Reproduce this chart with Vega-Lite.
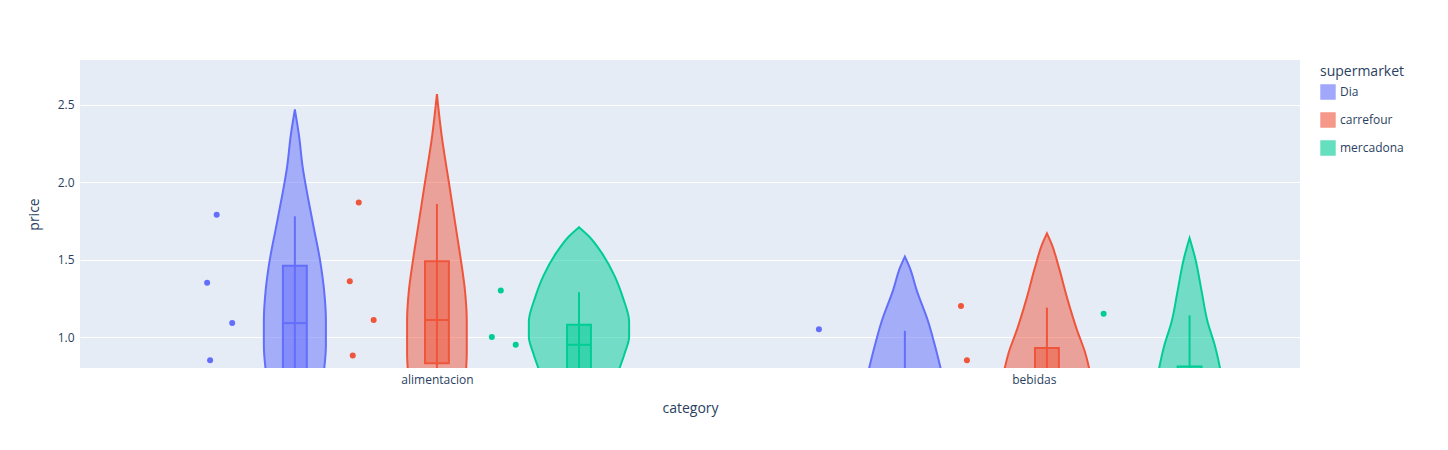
{
  "$schema": "https://vega.github.io/schema/vega-lite/v6.json",
  "width": 1220,
  "height": 308,
  "autosize": {"type": "none"},
  "padding": {"left": 80, "top": 60, "right": 148, "bottom": 82},
  "background": "white",
  "config": {
    "view": {"fill": "#e5ecf6", "stroke": null},
    "font": "Open Sans",
    "axis": {"labelColor": "#2a3f5f", "titleColor": "#2a3f5f", "titleFontWeight": "normal", "titleFontSize": 14, "labelFontSize": 12, "domain": false, "ticks": false}
  },
  "datasets": {
    "violin": [
      {"supermarket": "Dia", "g": "Dia-a", "price": 2.47, "lo": 0.762, "hi": 0.762},
      {"supermarket": "Dia", "g": "Dia-a", "price": 2.3, "lo": 0.755, "hi": 0.769},
      {"supermarket": "Dia", "g": "Dia-a", "price": 2.1, "lo": 0.749, "hi": 0.775},
      {"supermarket": "Dia", "g": "Dia-a", "price": 1.9, "lo": 0.740, "hi": 0.784},
      {"supermarket": "Dia", "g": "Dia-a", "price": 1.7, "lo": 0.730, "hi": 0.794},
      {"supermarket": "Dia", "g": "Dia-a", "price": 1.5, "lo": 0.720, "hi": 0.804},
      {"supermarket": "Dia", "g": "Dia-a", "price": 1.3, "lo": 0.713, "hi": 0.811},
      {"supermarket": "Dia", "g": "Dia-a", "price": 1.1, "lo": 0.710, "hi": 0.814},
      {"supermarket": "Dia", "g": "Dia-a", "price": 0.95, "lo": 0.710, "hi": 0.814},
      {"supermarket": "Dia", "g": "Dia-a", "price": 0.7, "lo": 0.716, "hi": 0.808},
      {"supermarket": "carrefour", "g": "Car-a", "price": 2.57, "lo": 1.0, "hi": 1.0},
      {"supermarket": "carrefour", "g": "Car-a", "price": 2.3, "lo": 0.992, "hi": 1.008},
      {"supermarket": "carrefour", "g": "Car-a", "price": 2.0, "lo": 0.980, "hi": 1.020},
      {"supermarket": "carrefour", "g": "Car-a", "price": 1.7, "lo": 0.968, "hi": 1.032},
      {"supermarket": "carrefour", "g": "Car-a", "price": 1.5, "lo": 0.960, "hi": 1.040},
      {"supermarket": "carrefour", "g": "Car-a", "price": 1.3, "lo": 0.953, "hi": 1.047},
      {"supermarket": "carrefour", "g": "Car-a", "price": 1.1, "lo": 0.950, "hi": 1.050},
      {"supermarket": "carrefour", "g": "Car-a", "price": 0.9, "lo": 0.950, "hi": 1.050},
      {"supermarket": "carrefour", "g": "Car-a", "price": 0.7, "lo": 0.953, "hi": 1.047},
      {"supermarket": "mercadona", "g": "Mer-a", "price": 1.71, "lo": 1.238, "hi": 1.238},
      {"supermarket": "mercadona", "g": "Mer-a", "price": 1.65, "lo": 1.221, "hi": 1.255},
      {"supermarket": "mercadona", "g": "Mer-a", "price": 1.55, "lo": 1.201, "hi": 1.275},
      {"supermarket": "mercadona", "g": "Mer-a", "price": 1.4, "lo": 1.179, "hi": 1.297},
      {"supermarket": "mercadona", "g": "Mer-a", "price": 1.25, "lo": 1.164, "hi": 1.312},
      {"supermarket": "mercadona", "g": "Mer-a", "price": 1.1, "lo": 1.154, "hi": 1.322},
      {"supermarket": "mercadona", "g": "Mer-a", "price": 1.0, "lo": 1.154, "hi": 1.322},
      {"supermarket": "mercadona", "g": "Mer-a", "price": 0.9, "lo": 1.161, "hi": 1.315},
      {"supermarket": "mercadona", "g": "Mer-a", "price": 0.7, "lo": 1.180, "hi": 1.296},
      {"supermarket": "Dia", "g": "Dia-b", "price": 1.52, "lo": 1.784, "hi": 1.784},
      {"supermarket": "Dia", "g": "Dia-b", "price": 1.45, "lo": 1.776, "hi": 1.792},
      {"supermarket": "Dia", "g": "Dia-b", "price": 1.3, "lo": 1.764, "hi": 1.804},
      {"supermarket": "Dia", "g": "Dia-b", "price": 1.1, "lo": 1.745, "hi": 1.823},
      {"supermarket": "Dia", "g": "Dia-b", "price": 0.95, "lo": 1.734, "hi": 1.834},
      {"supermarket": "Dia", "g": "Dia-b", "price": 0.7, "lo": 1.718, "hi": 1.850},
      {"supermarket": "carrefour", "g": "Car-b", "price": 1.67, "lo": 2.022, "hi": 2.022},
      {"supermarket": "carrefour", "g": "Car-b", "price": 1.6, "lo": 2.014, "hi": 2.030},
      {"supermarket": "carrefour", "g": "Car-b", "price": 1.45, "lo": 2.002, "hi": 2.042},
      {"supermarket": "carrefour", "g": "Car-b", "price": 1.25, "lo": 1.988, "hi": 2.056},
      {"supermarket": "carrefour", "g": "Car-b", "price": 1.05, "lo": 1.972, "hi": 2.072},
      {"supermarket": "carrefour", "g": "Car-b", "price": 0.9, "lo": 1.958, "hi": 2.086},
      {"supermarket": "carrefour", "g": "Car-b", "price": 0.7, "lo": 1.946, "hi": 2.098},
      {"supermarket": "mercadona", "g": "Mer-b", "price": 1.64, "lo": 2.261, "hi": 2.261},
      {"supermarket": "mercadona", "g": "Mer-b", "price": 1.5, "lo": 2.251, "hi": 2.271},
      {"supermarket": "mercadona", "g": "Mer-b", "price": 1.3, "lo": 2.241, "hi": 2.281},
      {"supermarket": "mercadona", "g": "Mer-b", "price": 1.1, "lo": 2.231, "hi": 2.291},
      {"supermarket": "mercadona", "g": "Mer-b", "price": 0.95, "lo": 2.219, "hi": 2.303},
      {"supermarket": "mercadona", "g": "Mer-b", "price": 0.7, "lo": 2.205, "hi": 2.317}
    ],
    "box": [
      {"supermarket": "Dia", "lo": 0.742, "hi": 0.782, "mid": 0.762, "q1": 0.7, "med": 1.09, "q3": 1.46, "wlo": 0.7, "whi": 1.78},
      {"supermarket": "carrefour", "lo": 0.980, "hi": 1.020, "mid": 1.0, "q1": 0.83, "med": 1.11, "q3": 1.49, "wlo": 0.7, "whi": 1.86},
      {"supermarket": "mercadona", "lo": 1.218, "hi": 1.258, "mid": 1.238, "q1": 0.7, "med": 0.95, "q3": 1.08, "wlo": 0.7, "whi": 1.29},
      {"supermarket": "Dia", "lo": 1.764, "hi": 1.804, "mid": 1.784, "q1": 0.6, "med": 0.65, "q3": 0.75, "wlo": 0.6, "whi": 1.04},
      {"supermarket": "carrefour", "lo": 2.002, "hi": 2.042, "mid": 2.022, "q1": 0.7, "med": 0.75, "q3": 0.93, "wlo": 0.7, "whi": 1.19},
      {"supermarket": "mercadona", "lo": 2.241, "hi": 2.281, "mid": 2.261, "q1": 0.7, "med": 0.75, "q3": 0.81, "wlo": 0.7, "whi": 1.14}
    ],
    "points": [
      {"supermarket": "Dia", "pos": 0.631, "price": 1.79},
      {"supermarket": "Dia", "pos": 0.615, "price": 1.35},
      {"supermarket": "Dia", "pos": 0.657, "price": 1.09},
      {"supermarket": "Dia", "pos": 0.620, "price": 0.85},
      {"supermarket": "carrefour", "pos": 0.869, "price": 1.87},
      {"supermarket": "carrefour", "pos": 0.854, "price": 1.36},
      {"supermarket": "carrefour", "pos": 0.894, "price": 1.11},
      {"supermarket": "carrefour", "pos": 0.859, "price": 0.88},
      {"supermarket": "mercadona", "pos": 1.107, "price": 1.30},
      {"supermarket": "mercadona", "pos": 1.092, "price": 1.00},
      {"supermarket": "mercadona", "pos": 1.132, "price": 0.95},
      {"supermarket": "Dia", "pos": 1.640, "price": 1.05},
      {"supermarket": "carrefour", "pos": 1.878, "price": 1.20},
      {"supermarket": "carrefour", "pos": 1.888, "price": 0.85},
      {"supermarket": "mercadona", "pos": 2.117, "price": 1.15}
    ]
  },
  "encoding": {
    "color": {
      "field": "supermarket", "type": "nominal",
      "scale": {"domain": ["Dia", "carrefour", "mercadona"], "range": ["#636efa", "#EF553B", "#00cc96"]},
      "legend": {"orient": "none", "legendX": 1240, "legendY": 5, "title": "supermarket", "titleFontWeight": "normal", "titleFontSize": 14, "titleColor": "#2a3f5f", "labelFontSize": 12, "labelColor": "#2a3f5f", "symbolType": "square", "symbolSize": 180, "symbolOpacity": 0.6, "symbolStrokeWidth": 2, "rowPadding": 6}
    }
  },
  "layer": [
    {
      "data": {"name": "violin"},
      "mark": {"type": "area", "orient": "horizontal", "clip": true, "fillOpacity": 0.5, "strokeWidth": 2, "interpolate": "monotone"},
      "encoding": {
        "y": {"field": "price", "type": "quantitative", "title": "price",
          "scale": {"domain": [0.8, 2.79], "nice": false, "zero": false},
          "axis": {"values": [1, 1.5, 2, 2.5], "gridColor": "white", "gridWidth": 1, "labelPadding": 6, "titlePadding": 16}},
        "x": {"field": "lo", "type": "quantitative", "title": "category",
          "scale": {"domain": [0.402, 2.446], "nice": false, "zero": false},
          "axis": {"values": [1, 2], "grid": false, "labelExpr": "datum.value == 1 ? 'alimentacion' : 'bebidas'", "labelPadding": 6, "titlePadding": 16}},
        "x2": {"field": "hi"},
        "detail": {"field": "g"},
        "stroke": {"field": "supermarket", "type": "nominal", "legend": null, "scale": {"domain": ["Dia", "carrefour", "mercadona"], "range": ["#636efa", "#EF553B", "#00cc96"]}}
      }
    },
    {
      "data": {"name": "box"},
      "mark": {"type": "rule", "clip": true, "strokeWidth": 2},
      "encoding": {"x": {"field": "mid", "type": "quantitative"}, "y": {"field": "wlo", "type": "quantitative"}, "y2": {"field": "whi"}}
    },
    {
      "data": {"name": "box"},
      "mark": {"type": "rect", "clip": true, "fillOpacity": 0.5, "strokeWidth": 2},
      "encoding": {
        "x": {"field": "lo", "type": "quantitative"}, "x2": {"field": "hi"},
        "y": {"field": "q1", "type": "quantitative"}, "y2": {"field": "q3"},
        "stroke": {"field": "supermarket", "type": "nominal", "legend": null}
      }
    },
    {
      "data": {"name": "box"},
      "mark": {"type": "rule", "clip": true, "strokeWidth": 2},
      "encoding": {"x": {"field": "lo", "type": "quantitative"}, "x2": {"field": "hi"}, "y": {"field": "med", "type": "quantitative"}}
    },
    {
      "data": {"name": "points"},
      "mark": {"type": "circle", "size": 36, "opacity": 1, "clip": true},
      "encoding": {"x": {"field": "pos", "type": "quantitative"}, "y": {"field": "price", "type": "quantitative"}}
    }
  ]
}
